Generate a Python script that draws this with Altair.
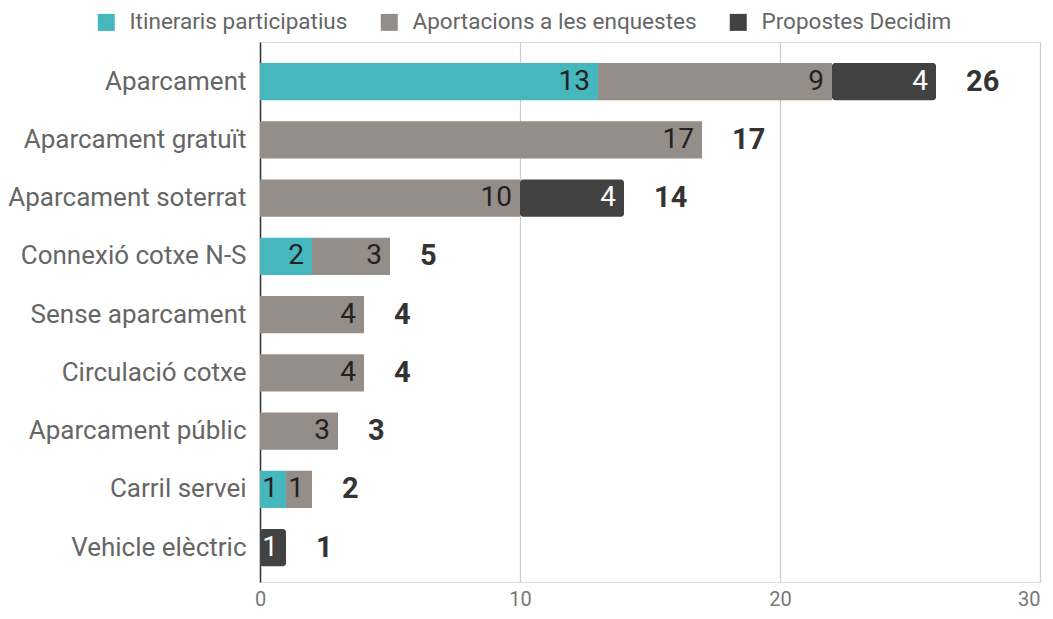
import altair as alt
import pandas as pd

categories = ["Aparcament", "Aparcament gratuït", "Aparcament soterrat", "Connexió cotxe N-S",
              "Sense aparcament", "Circulació cotxe", "Aparcament públic", "Carril servei", "Vehicle elèctric"]
series = ["Itineraris participatius", "Aportacions a les enquestes", "Propostes Decidim"]
itineraris = [13, 0, 0, 2, 0, 0, 0, 1, 0]
aportacions = [9, 17, 10, 3, 4, 4, 3, 1, 0]
propostes = [4, 0, 4, 0, 0, 0, 0, 0, 1]
colors = ["#46b7bc", "#958d88", "#424242"]

rows = []
totals = []
for i, c in enumerate(categories):
    vals = [itineraris[i], aportacions[i], propostes[i]]
    start = 0
    for s, v in zip(series, vals):
        if v > 0:
            rows.append({"cat": c, "series": s, "value": v, "start": start, "end": start + v,
                         "dark": s == "Propostes Decidim"})
        start += v
    totals.append({"cat": c, "total": start})
df = pd.DataFrame(rows)
tot = pd.DataFrame(totals)

yenc = alt.Y("cat:N", sort=categories, title=None,
             scale=alt.Scale(paddingInner=0.36, paddingOuter=0.315, align=0.57),
             axis=alt.Axis(labelFont="Roboto", labelFontSize=26, labelColor="#666666",
                           labelLimit=400, ticks=False, labelPadding=14,
                           domainColor="#333333", domainWidth=1.5, grid=False))
xenc = alt.X("start:Q", title=None,
             scale=alt.Scale(domain=[0, 30], nice=False),
             axis=alt.Axis(values=[0, 10, 20, 30], labelFont="Roboto", labelFontSize=20,
                           labelColor="#777777", ticks=False, domain=False, labelPadding=7,
                           labelFlush=False,
                           labelAlign=alt.expr("datum.value >= 30 ? 'right' : 'center'"),
                           gridColor="#cccccc", gridWidth=1.2))
colenc = alt.Color("series:N", scale=alt.Scale(domain=series, range=colors),
                   legend=alt.Legend(title=None, orient="none", direction="horizontal",
                                     legendX=-165, legendY=-31, symbolType="square",
                                     symbolSize=289, symbolStrokeWidth=0,
                                     labelFont="Roboto", labelFontSize=22.5, labelLimit=0,
                                     labelColor="#666666", columnPadding=30,
                                     labelOffset=12))

base = alt.Chart(df)
light = base.transform_filter("!datum.dark").mark_bar().encode(
    y=yenc, x=xenc, x2="end:Q", color=colenc)
dark = base.transform_filter("datum.dark").mark_bar(cornerRadiusEnd=3).encode(
    y=alt.Y("cat:N", sort=categories), x="start:Q", x2="end:Q", color=colenc)

lab_light = base.transform_filter("!datum.dark").mark_text(
    align="right", baseline="middle", dx=-8, font="Roboto", fontSize=28, color="#222222"
).encode(y=alt.Y("cat:N", sort=categories), x="end:Q", text="value:Q")
lab_dark = base.transform_filter("datum.dark").mark_text(
    align="right", baseline="middle", dx=-8, font="Roboto", fontSize=28, color="#ffffff"
).encode(y=alt.Y("cat:N", sort=categories), x="end:Q", text="value:Q")
lab_tot = alt.Chart(tot).mark_text(
    align="left", baseline="middle", dx=30, font="Roboto", fontSize=29, fontWeight="bold",
    color="#333333"
).encode(y=alt.Y("cat:N", sort=categories), x="total:Q", text="total:Q")

chart = alt.layer(light, dark, lab_light, lab_dark, lab_tot).properties(
    width=780, height=540,
    autosize=alt.AutoSizeParams(type="none"),
    padding={"left": 252, "top": 34, "right": 4, "bottom": 28},
).configure_view(strokeWidth=0).configure(background="white")

chart.save("out.html", embed_options={"renderer": "svg", "actions": False})
